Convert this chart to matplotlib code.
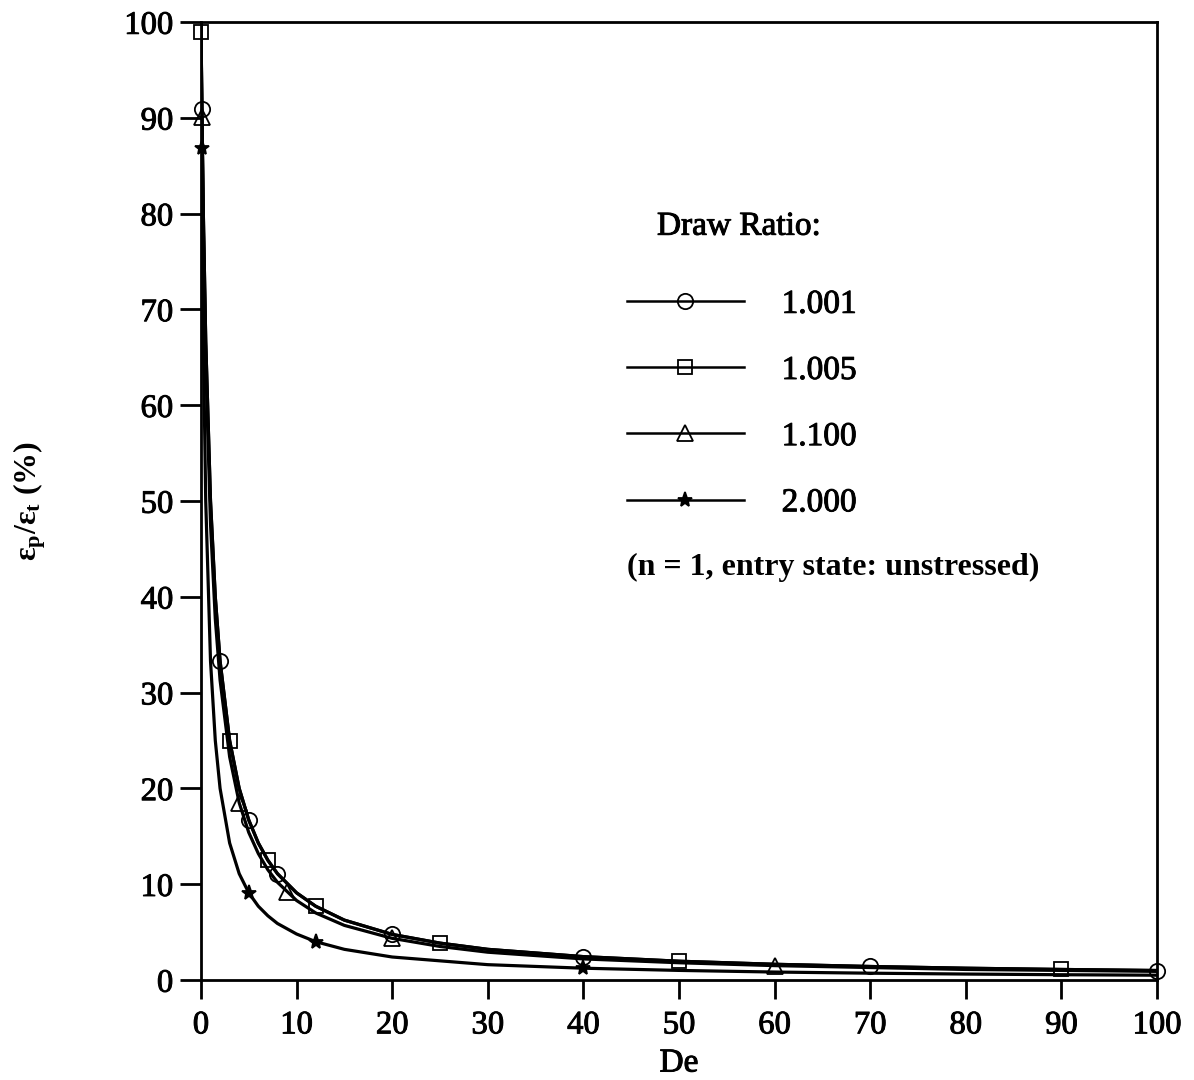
import matplotlib
matplotlib.use("Agg")
import matplotlib.pyplot as plt
import matplotlib.patheffects as pe

plt.rcParams.update({
    "font.family": "serif",
    "font.serif": ["Liberation Serif", "DejaVu Serif"],
    "mathtext.fontset": "custom",
    "mathtext.rm": "Liberation Serif:bold",
    "mathtext.it": "Liberation Serif:bold",
    "mathtext.bf": "Liberation Serif:bold",
})

# smooth curves
DE_LINE = [0, 0.1, 0.25, 0.5, 1, 1.5, 2, 3, 4, 5, 6, 7, 8, 10, 12, 15,
           20, 25, 30, 40, 50, 60, 70, 80, 90, 100]
LINE_1001 = [100, 90.9, 80, 66.7, 50, 40, 33.3, 25, 20, 16.7, 14.3, 12.5, 11.1,
             9.1, 7.7, 6.25, 4.76, 3.85, 3.2, 2.44, 1.96, 1.64, 1.41, 1.23, 1.1, 0.99]
LINE_1005 = [100, 90.9, 80, 66.7, 50, 40, 33.3, 25, 20, 16.7, 14.3, 12.5, 11.1,
             9.1, 7.7, 6.25, 4.76, 3.85, 3.2, 2.44, 1.96, 1.64, 1.41, 1.23, 1.1, 0.99]
LINE_1100 = [100, 90.1, 78.4, 64.5, 47.6, 37.7, 31.3, 23.3, 18.5, 15.4, 13.2, 11.5,
             10.2, 8.3, 7.0, 5.7, 4.35, 3.5, 2.9, 2.2, 1.8, 1.5, 1.3, 1.1, 1.0, 0.9]
LINE_2000 = [100, 86.8, 66.7, 50, 33.3, 25, 20, 14.3, 11.1, 9.1, 7.7, 6.7, 5.9,
             4.8, 4.0, 3.2, 2.4, 2.0, 1.6, 1.23, 1.0, 0.83, 0.71, 0.62, 0.55, 0.5]

# computed points shown with markers
DE_1001 = [0.1, 2, 5, 8, 20, 40, 70, 100]
PT_1001 = [90.9, 33.3, 16.7, 11.1, 4.76, 2.44, 1.41, 0.99]
DE_1005 = [0.01, 3, 7, 12, 25, 50, 90]
PT_1005 = [99.0, 25.0, 12.5, 7.7, 3.85, 1.96, 1.1]
DE_1100 = [0.1, 4, 9, 20, 60]
PT_1100 = [90.1, 18.5, 9.2, 4.35, 1.5]
DE_2000 = [0.075, 5, 12, 40]
PT_2000 = [86.8, 9.1, 4.0, 1.23]

LABELS = ["1.001", "1.005", "1.100", "2.000"]
MARKERS = ["o", "s", "^", "*"]
MSIZE = [11, 9.5, 11, 11]

# thicken regular-weight glyphs a little (printed look)
HEAVY = [pe.withStroke(linewidth=0.7, foreground="black")]

fig = plt.figure(figsize=(11.94, 10.8), dpi=100)
ax = fig.add_axes([0.1683, 0.0926, 0.8007, 0.887])

lines = [LINE_1001, LINE_1005, LINE_1100, LINE_2000]
pts = [(DE_1001, PT_1001), (DE_1005, PT_1005), (DE_1100, PT_1100), (DE_2000, PT_2000)]
handles = []
for ln, (dx, dy), lab, mk, ms in zip(lines, pts, LABELS, MARKERS, MSIZE):
    ax.plot(DE_LINE, ln, color="black", lw=2.3, zorder=2)
    fc = "black" if mk == "*" else "none"
    ax.plot(dx, dy, ls="none", marker=mk, ms=ms, mfc=fc, mec="black", mew=1.3,
            zorder=3, clip_on=False)
    h, = ax.plot([], [], color="black", lw=1.8, marker=mk, ms=ms, mfc=fc,
                 mec="black", mew=1.3, label=lab)
    handles.append(h)

ax.set_xlim(0, 100)
ax.set_ylim(0, 100)
ax.set_xticks(range(0, 101, 10))
ax.set_yticks(range(0, 101, 10))
for s in ax.spines.values():
    s.set_linewidth(2.0)
ax.tick_params(direction="out", width=2.0, labelsize=23.5)
ax.tick_params(axis="y", length=15, pad=5)
ax.tick_params(axis="x", length=13.5, pad=8)
for t in ax.get_xticklabels() + ax.get_yticklabels():
    t.set_path_effects(HEAVY)

ax.set_xlabel("De", fontsize=24, path_effects=HEAVY)
ax.xaxis.set_label_coords(0.5, -0.071)
ax.set_ylabel("$\\mathrm{ε_p/ε_t}$ (%)", fontsize=23, fontweight="bold")
ax.yaxis.set_label_coords(-0.16, 0.5)

ax.text(0.477, 0.778, "Draw Ratio:", transform=ax.transAxes, fontsize=24,
        ha="left", va="baseline", path_effects=HEAVY)
leg = ax.legend(handles=handles, loc="upper left", bbox_to_anchor=(0.4456, 0.721),
                frameon=False, fontsize=24, handlelength=3.5, handletextpad=1.14,
                labelspacing=1.07, borderaxespad=0, borderpad=0)
for t in leg.get_texts():
    t.set_path_effects(HEAVY)
ax.text(0.4456, 0.4228, "(n = 1, entry state: unstressed)", transform=ax.transAxes,
        fontsize=23, fontweight="bold", ha="left", va="baseline")

fig.savefig("out.png", dpi=100)
